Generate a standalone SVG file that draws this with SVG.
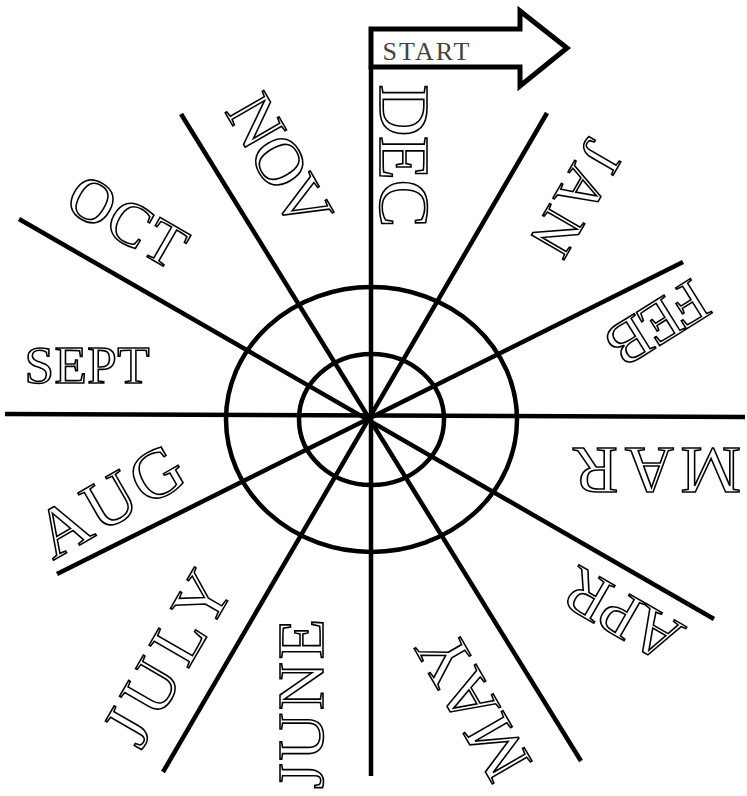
<svg xmlns="http://www.w3.org/2000/svg" width="747" height="796" viewBox="0 0 747 796">
<style>
.spoke{stroke:#000;stroke-width:4.5;fill:none;stroke-linecap:butt}
.ring{stroke:#000;stroke-width:4.5;fill:none}
.lbl{font-family:"Liberation Serif","DejaVu Serif",serif;fill:#fff;stroke:#000;stroke-width:1.6;text-anchor:middle}
</style>
<rect width="747" height="796" fill="#fff"/>
<g id="rings">
<ellipse class="ring" cx="371.5" cy="419.5" rx="145.5" ry="132.5"/>
<ellipse class="ring" cx="371.5" cy="419.5" rx="72.5" ry="65.5"/>
</g>
<g id="spokes">
<line class="spoke" x1="371" y1="66" x2="371" y2="776"/>
<line class="spoke" x1="5" y1="414" x2="745" y2="417"/>
<line class="spoke" x1="547" y1="113" x2="163" y2="772"/>
<line class="spoke" x1="683" y1="262" x2="57" y2="574"/>
<line class="spoke" x1="181" y1="114" x2="581" y2="761"/>
<line class="spoke" x1="19" y1="219" x2="714" y2="619"/>
</g>
<g id="start">
<polygon points="371,29 520,29 520,11 567,48 520,86 520,67 371,67" fill="#fff" stroke="#000" stroke-width="5" stroke-linejoin="miter"/>
<text x="426" y="60" font-family="Liberation Serif, serif" font-size="26" fill="#444" text-anchor="middle" textLength="87">START</text>
</g>
<g id="dec" transform="translate(404,156) rotate(90)"><text class="lbl" y="24" font-size="72" textLength="143">DEC</text></g>
<g id="jan" transform="translate(576,198) rotate(120)"><text class="lbl" y="20" font-size="62" textLength="122">JAN</text></g>
<g id="feb" transform="translate(657,323) rotate(148)"><text class="lbl" y="20" font-size="62" textLength="108">FEB</text></g>
<g id="mar" transform="translate(657,470) rotate(180)"><text class="lbl" y="22" font-size="68" textLength="168">MAR</text></g>
<g id="apr" transform="translate(622,615) rotate(210)"><text class="lbl" y="22" font-size="66" textLength="125">APR</text></g>
<g id="may" transform="translate(473,705) rotate(240)"><text class="lbl" y="23" font-size="70" textLength="160">MAY</text></g>
<g id="june" transform="translate(301,704) rotate(270)"><text class="lbl" y="22" font-size="66" textLength="170">JUNE</text></g>
<g id="july" transform="translate(168,658) rotate(300)"><text class="lbl" y="23" font-size="70" textLength="188">JULY</text></g>
<g id="aug" transform="translate(110,501) rotate(330)"><text class="lbl" y="23" font-size="70" textLength="158">AUG</text></g>
<g id="sept" transform="translate(87,366)"><text class="lbl" y="17" font-size="53" textLength="125">SEPT</text></g>
<g id="oct" transform="translate(127,222) rotate(30)"><text class="lbl" y="20" font-size="62" textLength="126">OCT</text></g>
<g id="nov" transform="translate(279,162) rotate(60)"><text class="lbl" y="22" font-size="68" textLength="143">NOV</text></g>
</svg>
